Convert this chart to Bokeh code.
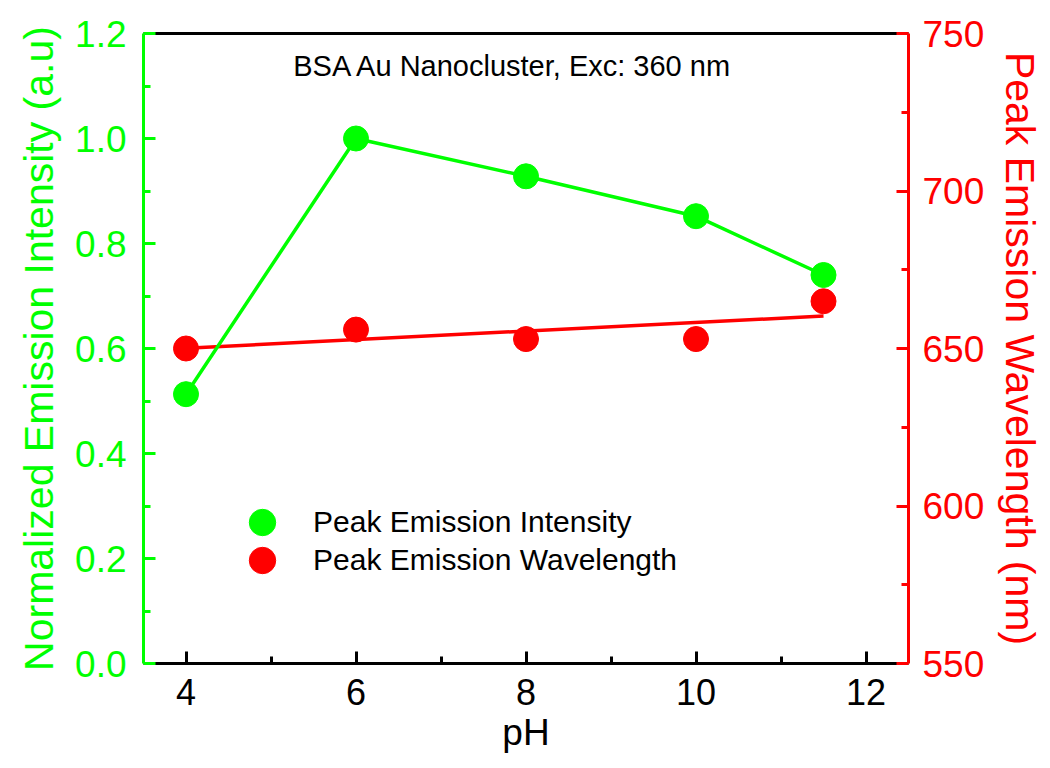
import numpy as np
from bokeh.plotting import figure
from bokeh.models import (Range1d, LinearAxis, FixedTicker,
                          PrintfTickFormatter, Legend, LegendItem, Label)
from bokeh.embed import file_html
from bokeh.resources import INLINE

# ---- data ----
ph = [4, 6, 8, 10, 11.5]
intensity = [0.513, 1.0, 0.928, 0.852, 0.740]
wavelength = [650, 656, 653, 653, 665]
title_text = "BSA Au Nanocluster, Exc: 360 nm"
x_label = "pH"
y_label = "Normalized Emission Intensity (a.u)"
y2_label = "Peak Emission Wavelength (nm)"
series_names = ["Peak Emission Intensity", "Peak Emission Wavelength"]

# ---- ticks ----
x_ticks = [4, 6, 8, 10, 12]
x_minor = [5, 7, 9, 11]
y_ticks = [0.0, 0.2, 0.4, 0.6, 0.8, 1.0, 1.2]
y_minor = [0.1, 0.3, 0.5, 0.7, 0.9, 1.1]
y2_ticks = [550, 600, 650, 700, 750]
y2_minor = [575, 625, 675, 725]

GREEN = "#00FF00"
RED = "#FF0000"
FONT = "Liberation Sans"

W, H = 1046, 764
p = figure(width=W, height=H, output_backend="svg", toolbar_location=None,
           x_range=Range1d(3.5, 12.5), y_range=Range1d(0, 1.2),
           min_border_left=143, min_border_right=W - 910, min_border_top=33,
           min_border_bottom=H - 663,
           x_axis_location=None, y_axis_location=None)
p.extra_y_ranges = {"wl": Range1d(550, 750)}
p.grid.visible = False
p.outline_line_color = None
p.background_fill_color = "white"


def style_axis(ax, color, ticker, tick_size, label_size):
    ax.ticker = ticker
    ax.axis_line_color = color
    ax.axis_line_width = 3
    ax.major_tick_line_color = color
    ax.major_tick_line_width = 3
    ax.minor_tick_line_color = color
    ax.minor_tick_line_width = 3
    ax.major_tick_in = 12
    ax.major_tick_out = 0
    ax.minor_tick_in = 7
    ax.minor_tick_out = 0
    ax.major_label_text_color = color
    ax.major_label_text_font = FONT
    ax.major_label_text_font_size = tick_size
    ax.axis_label_text_color = color
    ax.axis_label_text_font = FONT
    ax.axis_label_text_font_size = label_size
    ax.axis_label_text_font_style = "normal"


xax = LinearAxis(axis_label=x_label)
style_axis(xax, "black", FixedTicker(ticks=x_ticks, minor_ticks=x_minor), "36px", "37px")
xax.major_label_standoff = 15
xax.axis_label_standoff = 4
p.add_layout(xax, "below")

yax = LinearAxis(axis_label=y_label, formatter=PrintfTickFormatter(format="%.1f"))
style_axis(yax, GREEN, FixedTicker(ticks=y_ticks, minor_ticks=y_minor), "37px", "41px")
yax.major_label_standoff = 17
yax.axis_label_standoff = 10
p.add_layout(yax, "left")

y2ax = LinearAxis(y_range_name="wl", axis_label=y2_label)
style_axis(y2ax, RED, FixedTicker(ticks=y2_ticks, minor_ticks=y2_minor), "37px", "41px")
y2ax.major_label_standoff = 14
y2ax.axis_label_standoff = 10
p.add_layout(y2ax, "right")

top = LinearAxis(ticker=FixedTicker(ticks=[]), axis_line_color="black", axis_line_width=3,
                 major_tick_line_color=None, minor_tick_line_color=None)
p.add_layout(top, "above")

# linear fit of wavelength vs pH
coef = np.polyfit(ph, wavelength, 1)
fit_x = [min(ph), max(ph)]
fit_y = list(np.polyval(coef, fit_x))

p.line(fit_x, fit_y, y_range_name="wl", line_color=RED, line_width=3.5)
p.line(ph, intensity, line_color=GREEN, line_width=3.5)
g = p.scatter(ph, intensity, size=25, fill_color=GREEN, line_color=GREEN)
r = p.scatter(ph, wavelength, y_range_name="wl", size=25, fill_color=RED, line_color=RED)

common = dict(glyph_width=66, glyph_height=66, label_standoff=18, padding=0, margin=0,
              background_fill_alpha=0, border_line_color=None,
              label_text_font=FONT, label_text_font_size="30px", label_text_color="black",
              label_text_baseline="middle")
leg1 = Legend(items=[LegendItem(label=series_names[0], renderers=[g])],
              location=(86, 108), **common)
leg2 = Legend(items=[LegendItem(label=series_names[1], renderers=[r])],
              location=(86, 70), **common)
p.add_layout(leg1, "center")
p.add_layout(leg2, "center")

p.add_layout(Label(x=7.85, y=1.139, text=title_text, text_align="center",
                   text_baseline="middle", text_font=FONT, text_font_size="29px",
                   text_color="black"))

open("out.html", "w").write(file_html(p, INLINE))
